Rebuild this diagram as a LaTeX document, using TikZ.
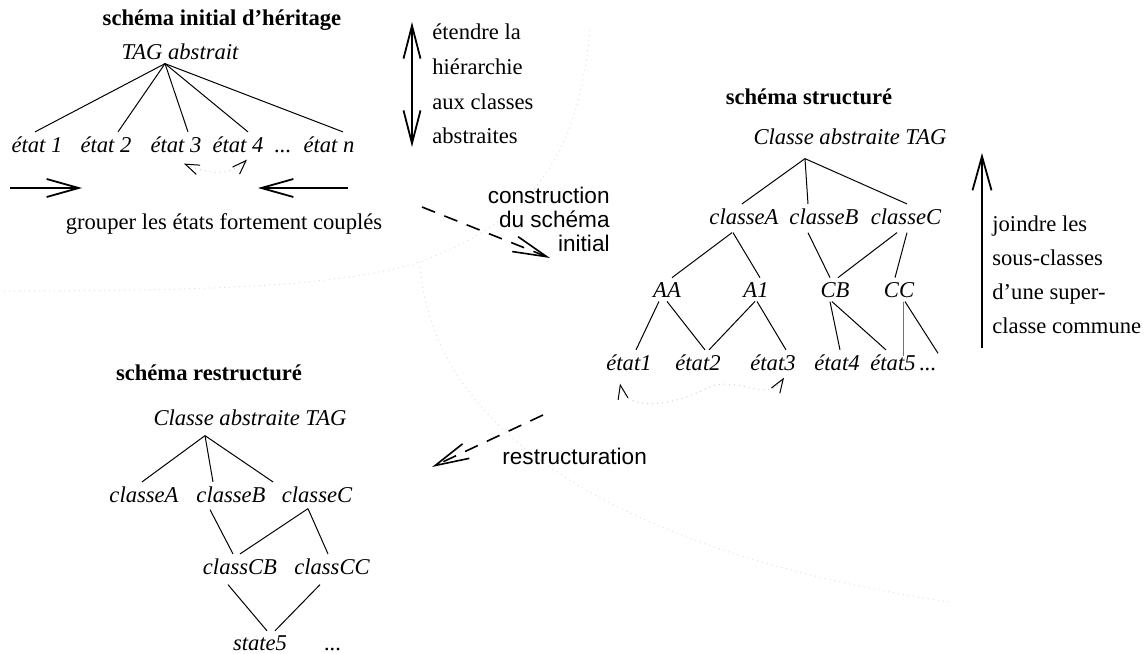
\documentclass[tikz,border=0pt]{standalone}
\usepackage{fontspec}
\setmainfont{Liberation Serif}
\setsansfont{Liberation Sans}
\usetikzlibrary{arrows.meta,calc}

\begin{document}
\fontsize{11.3}{13.6}\selectfont%
\begin{tikzpicture}[
  x=0.5pt, y=-0.5pt,
  cls/.style={font=\itshape, inner sep=2pt, anchor=base},
  ttl/.style={font=\bfseries, inner sep=1pt, anchor=base},
  note/.style={align=left, anchor=west, inner sep=0pt, font=\fontsize{11.3}{17.3}\selectfont},
  sfnote/.style={inner sep=0pt, font=\sffamily\fontsize{11.3}{12}\selectfont},
  edge/.style={line width=0.5pt},
  bigarr/.style={-{Straight Barb[length=16pt,width=9pt]}, line width=0.9pt},
  dasharr/.style={-{Straight Barb[length=17pt,width=8pt]}, line width=0.8pt, dash pattern=on 7pt off 5pt},
  pairarr/.style={black!18, dotted, line width=0.5pt,
    {Straight Barb[color=black,length=7pt,width=5pt]}-{Straight Barb[color=black,length=7pt,width=5pt]}},
  halo/.style={black!12, dotted, line width=0.5pt}]
  \useasboundingbox (0,0) rectangle (1148,654);

  % faint separators between the three schemas
  \draw[halo] (590,30) .. controls (578,160) and (530,220) .. (420,262) coordinate (hj)
    .. controls (340,287) and (200,291) .. (0,291);
  \draw[halo] (hj) .. controls (428,420) and (600,550) .. (950,602);

  % initial schema
  \node[ttl] (tinit) at (222,25) {schéma initial d’héritage};
  \node[cls] (tag) at (180,59) {TAG abstrait};
  \node[cls] (e1) at (37,152) {état 1};
  \node[cls] (e2) at (106,152) {état 2};
  \node[cls] (e3) at (176,152) {état 3};
  \node[cls] (e4) at (238,152) {état 4};
  \node[cls] (edots) at (283,152) {...};
  \node[cls] (en) at (329,152) {état n};
  \foreach \n/\dx in {e1/-2, e2/12, e3/12, e4/10, en/14}
    \draw[edge] ($(tag.south)+(-15,0)$) -- ($(\n.north)+(\dx,0)$);
  \draw[pairarr] ($(e3.south)+(8,7)$) .. controls +(21,9) and +(-19,19) .. ($(e4.south)+(9,3)$);

  % grouping the coupled states
  \coordinate (gl0) at (10,188);
  \coordinate (gl1) at (82,188);
  \coordinate (gr0) at (348,188);
  \coordinate (gr1) at (258,188);
  \draw[bigarr] (gl0) -- (gl1);
  \draw[bigarr] (gr0) -- (gr1);
  \node[anchor=base, inner sep=0pt] (grp) at (224,229) {grouper les états fortement couplés};

  % extending the hierarchy
  \coordinate (ext0) at (412,22);
  \coordinate (ext1) at (412,147);
  \draw[line width=0.9pt, {Straight Barb[length=16.5pt,width=8.5pt]}-{Straight Barb[length=16.5pt,width=8.5pt]}] (ext0) -- (ext1);
  \node[note] (ext) at (432,84) {étendre la\\hiérarchie\\aux classes\\abstraites};

  % construction step
  \coordinate (cs0) at (422,207);
  \coordinate (cs1) at (550,258);
  \draw[dasharr] (cs0) -- (cs1);
  \node[sfnote, align=right, anchor=east] (cons) at (610,219) {construction\\du schéma\\initial};

  % structured schema
  \node[ttl] (tstr) at (809,104) {schéma structuré};
  \node[cls] (root) at (850,144) {Classe abstraite TAG};
  \node[cls] (ca) at (744,224) {classeA};
  \node[cls] (cb) at (824,224) {classeB};
  \node[cls] (cc) at (906,224) {classeC};
  \node[cls] (aa) at (667,297) {AA};
  \node[cls] (aone) at (756,297) {A1};
  \node[cls] (cbb) at (835,297) {CB};
  \node[cls] (ccc) at (899,297) {CC};
  \node[cls] (s1) at (629,370) {état1};
  \node[cls] (s2) at (698,370) {état2};
  \node[cls] (s3) at (773,370) {état3};
  \node[cls] (s4) at (837,370) {état4};
  \node[cls] (s5) at (893,370) {état5};
  \node[cls] (sdots) at (928,370) {...};
  \foreach \n/\dx in {ca/-2, cb/-16, cc/1}
    \draw[edge] ($(root.south)+(-45,10)$) -- ($(\n.north)+(\dx,0)$);
  \draw[edge] ($(ca.south)+(-12,4)$) -- ($(aa.north)+(5,0)$);
  \draw[edge] ($(ca.south)+(-11,4)$) -- ($(aone.north)+(4,0)$);
  \draw[edge] ($(cb.south)+(-16,4)$) -- ($(cbb.north)+(-5,0)$);
  \draw[edge] ($(cc.south)+(-9,4)$) -- ($(cbb.north)+(3,0)$);
  \draw[edge] ($(cc.south)+(1,4)$) -- ($(ccc.north)+(-4,0)$);
  \draw[edge] ($(aa.south)+(-8,0)$) -- ($(s1.north)+(7,0)$);
  \draw[edge] (aa.south) -- ($(s2.north)+(7,0)$);
  \draw[edge] ($(aone.south)+(-1,0)$) -- ($(s2.north)+(11,0)$);
  \draw[edge] ($(aone.south)+(1,0)$) -- ($(s3.north)+(13,0)$);
  \draw[edge] ($(cbb.south)+(-5,0)$) -- ($(s4.north)+(3,0)$);
  \draw[edge] ($(cbb.south)+(-3,0)$) -- ($(s5.north)+(-7,0)$);
  \draw[edge, black!55] ($(ccc.south)+(4,0)$) -- ($(s5.north)+(10,6)$);
  \draw[edge] ($(ccc.south)+(6,0)$) -- ($(sdots.north)+(10,-10)$);
  \draw[pairarr] ($(s1.south)+(-9,9)$) .. controls +(6,30) and +(-30,16) .. ($(s2.south)+(8,14)$)
    .. controls +(30,-16) and +(-18,28) .. ($(s3.south)+(11,3)$);

  % joining sub-classes
  \coordinate (jn0) at (982,348);
  \coordinate (jn1) at (982,153);
  \draw[line width=0.9pt, -{Straight Barb[length=17pt,width=9.5pt]}] (jn0) -- (jn1);
  \node[note, font=\fontsize{11.3}{17}\selectfont] (join) at (992,275) {joindre les\\sous-classes\\d’une super-\\classe commune};

  % restructuring step
  \coordinate (rs0) at (543,415);
  \coordinate (rs1) at (432,467);
  \draw[dasharr] (rs0) -- (rs1);
  \node[sfnote, anchor=west] (restr) at (502,456) {restructuration};

  % restructured schema
  \node[ttl] (trestr) at (209,380) {schéma restructuré};
  \node[cls] (rroot) at (250,425) {Classe abstraite TAG};
  \node[cls] (ra) at (144,502) {classeA};
  \node[cls] (rb) at (231,502) {classeB};
  \node[cls] (rc) at (317,502) {classeC};
  \node[cls] (rcb) at (240,574) {classCB};
  \node[cls] (rcc) at (332,574) {classCC};
  \node[cls] (st5) at (260,650) {state5};
  \node[cls] (rdots) at (333,650) {...};
  \foreach \n/\dx in {ra/-2, rb/-18, rc/-44}
    \draw[edge] ($(rroot.south)+(-45,6)$) -- ($(\n.north)+(\dx,0)$);
  \draw[edge] ($(rb.south)+(-21,3)$) -- ($(rcb.north)+(-7,0)$);
  \draw[edge] ($(rc.south)+(-9,2)$) -- (rcb.north);
  \draw[edge] ($(rc.south)+(-9,2)$) -- ($(rcc.north)+(-4,0)$);
  \draw[edge] ($(rcb.south)+(-12,6)$) -- ($(st5.north)+(7,0)$);
  \draw[edge] ($(rcc.south)+(-12,6)$) -- ($(st5.north)+(15,0)$);
\end{tikzpicture}
\end{document}
